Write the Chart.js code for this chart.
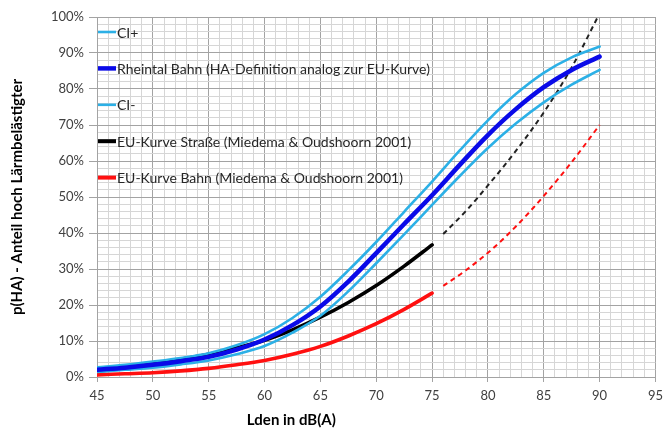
<!DOCTYPE html>
<html>
<head>
<meta charset="utf-8">
<script src="https://cdn.jsdelivr.net/npm/chart.js@4/dist/chart.umd.min.js"></script>
<style>
  html, body { margin: 0; padding: 0; background: #ffffff; }
  #wrap { width: 669px; height: 430px; position: relative; }
</style>
</head>
<body>
<div id="wrap"><canvas id="c" width="669" height="430"></canvas></div>
<script>
// ---- data ----
const lden = [45, 47.5, 50, 52.5, 55, 57.5, 60, 62.5, 65, 67.5, 70, 72.5, 75, 77.5, 80, 82.5, 85, 87.5, 90];
const ciPlus   = [2.7, 3.4, 4.3, 5.3, 6.6, 8.8, 11.9, 16.4, 22.3, 29.6, 37.5, 45.9, 54.3, 63.0, 71.3, 78.6, 84.5, 88.8, 91.8];
const rheintal = [2.0, 2.6, 3.4, 4.4, 5.6, 7.6, 10.4, 14.4, 19.6, 26.5, 34.4, 42.5, 50.5, 59.0, 67.2, 74.4, 80.5, 85.3, 89.0];
const ciMinus  = [1.4, 2.0, 2.6, 3.5, 4.6, 6.3, 8.6, 12.3, 17.0, 23.8, 31.6, 39.6, 47.8, 55.9, 63.6, 70.4, 76.3, 81.2, 85.3];

const ldenSolid = [45, 47.5, 50, 52.5, 55, 57.5, 60, 62.5, 65, 67.5, 70, 72.5, 75];
const strasse   = [1.6, 2.5, 3.6, 4.9, 6.3, 8.1, 10.2, 13.1, 16.6, 20.7, 25.4, 30.8, 36.7];
const bahn      = [0.6, 0.9, 1.2, 1.7, 2.4, 3.4, 4.6, 6.3, 8.5, 11.4, 14.8, 18.8, 23.3];

const ldenDashed = [76, 78, 80, 82.5, 85, 87.5, 90];
const strasseExt = [39.7, 46.0, 53.2, 62.8, 73.5, 86.0, 101.0];
const bahnExt    = [25.3, 29.6, 34.5, 41.8, 50.3, 59.7, 70.0];

const legendLabels = [
  'CI+',
  'Rheintal Bahn (HA-Definition analog zur EU-Kurve)',
  'CI-',
  'EU-Kurve Straße (Miedema & Oudshoorn 2001)',
  'EU-Kurve Bahn (Miedema & Oudshoorn 2001)'
];
const xTitle = 'Lden in dB(A)';
const yTitle = 'p(HA) - Anteil hoch Lärmbelästigter';

// ---- styles ----
const LIGHT = '#2cb0e6', BLUE = '#0a0ae8', BLACK = '#000000', RED = '#ff1010';
const pts = (xs, ys) => xs.map((x, i) => ({x: x, y: ys[i]}));
const common = {pointRadius: 0, fill: false, cubicInterpolationMode: 'monotone', borderCapStyle: 'round'};

const datasets = [
  Object.assign({}, common, {label: legendLabels[1], data: pts(lden, rheintal), borderColor: BLUE, borderWidth: 4.5}),
  Object.assign({}, common, {label: legendLabels[0], data: pts(lden, ciPlus), borderColor: LIGHT, borderWidth: 2.6}),
  Object.assign({}, common, {label: legendLabels[2], data: pts(lden, ciMinus), borderColor: LIGHT, borderWidth: 2.6}),
  Object.assign({}, common, {label: legendLabels[3], data: pts(ldenSolid, strasse), borderColor: BLACK, borderWidth: 3.6}),
  Object.assign({}, common, {label: legendLabels[4], data: pts(ldenSolid, bahn), borderColor: RED, borderWidth: 3.6}),
  Object.assign({}, common, {label: legendLabels[3] + ' (ext.)', data: pts(ldenDashed, strasseExt), borderColor: '#222222', borderWidth: 2, borderDash: [5, 4], borderCapStyle: 'butt'}),
  Object.assign({}, common, {label: legendLabels[4] + ' (ext.)', data: pts(ldenDashed, bahnExt), borderColor: RED, borderWidth: 2, borderDash: [5, 4], borderCapStyle: 'butt'})
];

const legendStyles = [
  {color: LIGHT, width: 2.6},
  {color: BLUE, width: 4.5},
  {color: LIGHT, width: 2.6},
  {color: BLACK, width: 4},
  {color: RED, width: 4}
];

const innerLegend = {
  id: 'innerLegend',
  afterDatasetsDraw(chart) {
    const ctx = chart.ctx, a = chart.chartArea;
    ctx.save();
    ctx.font = '14px Lato';
    ctx.textBaseline = 'middle';
    ctx.textAlign = 'left';
    legendLabels.forEach((lab, i) => {
      const y = a.top + 15 + i * 36.4;
      const st = legendStyles[i];
      ctx.beginPath();
      ctx.strokeStyle = st.color;
      ctx.lineWidth = st.width;
      ctx.moveTo(a.left + 1, y);
      ctx.lineTo(a.left + 19, y);
      ctx.stroke();
      ctx.fillStyle = '#262626';
      ctx.fillText(lab, a.left + 20, y + 1);
    });
    // x axis title
    ctx.font = 'bold 15px Lato';
    ctx.fillStyle = '#000000';
    ctx.textAlign = 'center';
    ctx.fillText(xTitle, a.left + (a.right - a.left) * 0.348, a.bottom + 43);
    ctx.restore();
  }
};

const MAJOR = '#a3a3a3', MINOR = '#d6d6d6';

new Chart(document.getElementById('c'), {
  type: 'line',
  data: {datasets: datasets},
  options: {
    responsive: false,
    animation: false,
    devicePixelRatio: 1,
    layout: {padding: {top: 17, right: 11, left: 0, bottom: 0}},
    plugins: {legend: {display: false}, tooltip: {enabled: false}},
    scales: {
      x: {
        type: 'linear', min: 45, max: 95,
        afterFit: s => { s.height = 53; },
        ticks: {
          stepSize: 1, autoSkip: false, maxRotation: 0, padding: 6,
          color: '#404040', font: {family: 'Lato', size: 13},
          callback: v => (v % 5 === 0 ? String(v) : '')
        },
        grid: {
          color: c => (c.tick && c.tick.value % 5 === 0 ? MAJOR : MINOR),
          tickColor: c => (c.tick && c.tick.value % 5 === 0 ? MAJOR : 'rgba(0,0,0,0)'),
          tickLength: 5, lineWidth: 1
        },
        border: {color: MAJOR}
      },
      y: {
        min: 0, max: 100,
        afterFit: s => { s.width = 97; },
        ticks: {
          stepSize: 2, autoSkip: false, padding: 5,
          color: '#404040', font: {family: 'Lato', size: 13},
          callback: v => (v % 10 === 0 ? v + '%' : '')
        },
        grid: {
          color: c => (c.tick && c.tick.value % 10 === 0 ? MAJOR : MINOR),
          tickColor: c => (c.tick && c.tick.value % 10 === 0 ? MAJOR : 'rgba(0,0,0,0)'),
          tickLength: 8, lineWidth: 1
        },
        border: {color: MAJOR},
        title: {display: true, text: yTitle, color: '#000000', font: {family: 'Lato', size: 15, weight: 'bold'}, padding: {top: 8, bottom: 0}}
      }
    }
  },
  plugins: [innerLegend]
});
</script>
</body>
</html>
